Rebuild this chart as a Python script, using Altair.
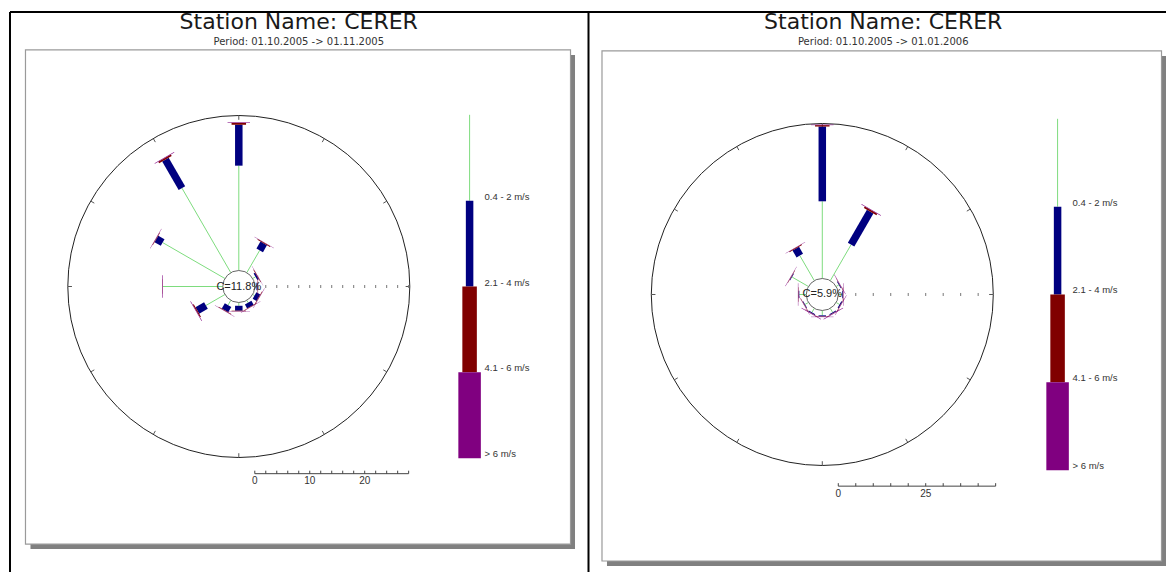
import math
import altair as alt
import pandas as pd

# ---------------- data ----------------
directions = [0, 30, 60, 90, 120, 150, 180, 210, 240, 270, 300, 330]
classes = ["0.4 - 2 m/s", "2.1 - 4 m/s", "4.1 - 6 m/s", "> 6 m/s"]
class_colors = ["#7edc7e", "#000080", "#800000", "#800080"]

titles = ["Station Name: CERER", "Station Name: CERER"]
periods = ["Period: 01.10.2005 -> 01.11.2005", "Period: 01.10.2005 -> 01.01.2006"]
calms = ["C=11.8%", "C=5.9%"]

# frequency (%) per direction and speed class, panel 1 (Oct 2005)
p1_c1 = [19.1, 4.7, 0.6, 0.3, 0.4, 0.5, 0.6, 1.0, 4.0, 10.9, 13.1, 17.8]
p1_c2 = [7.45, 1.45, 0.3, 0.2, 0.8, 0.8, 0.9, 1.1, 1.8, 0.0, 1.3, 6.0]
p1_c3 = [0.35, 0.15, 0.1, 0.05, 0.1, 0.1, 0.1, 0.1, 0.2, 0.05, 0.1, 0.3]
p1_c4 = [0.1, 0.05, 0.05, 0.05, 0.05, 0.05, 0.05, 0.05, 0.1, 0.1, 0.05, 0.1]

# panel 2 (Oct 2005 - Dec 2005)
p2_c1 = [22.1, 11.9, 0.9, 1.1, 1.1, 1.3, 1.4, 1.3, 1.1, 2.0, 5.4, 8.3]
p2_c2 = [21.4, 10.9, 0.2, 0.2, 0.3, 0.3, 0.3, 0.3, 0.2, 0.2, 0.2, 2.3]
p2_c3 = [0.4, 0.5, 0.1, 0.1, 0.1, 0.1, 0.1, 0.1, 0.1, 0.1, 0.1, 0.2]
p2_c4 = [0.15, 0.15, 0.1, 0.1, 0.1, 0.1, 0.1, 0.1, 0.1, 0.1, 0.1, 0.1]

scale_labels_1 = [0, 10, 20]
scale_labels_2 = [0, 25]

# ---------------- layout (pixel frame) ----------------
W, H = 1159, 565
X0, Y0 = 8, 8
seg_widths = [1, 7.5, 14.5, 22.5]

panels = [
    dict(cx=239, cy=287, R=171, r0=16, ppu=5.5, tick_step=2, tick_max=28,
         axis_max=28, scale_y=474.5, label_dy=7.5, lx=470, ltop=115, lseg=86,
         box=(25.5, 50, 571, 545), tx=299,
         data=[p1_c1, p1_c2, p1_c3, p1_c4], labels=scale_labels_1),
    dict(cx=823, cy=295, R=171, r0=16, ppu=3.5, tick_step=5, tick_max=45,
         axis_max=40, scale_y=487, label_dy=8, lx=1058.5, ltop=119, lseg=88,
         box=(602.5, 51, 1162.5, 562), tx=884,
         data=[p2_c1, p2_c2, p2_c3, p2_c4], labels=scale_labels_2),
]

xs = alt.Scale(domain=[X0, X0 + W], nice=False, zero=False)
ys = alt.Scale(domain=[Y0 + H, Y0], nice=False, zero=False)


def X(f="x"):
    return alt.X(f"{f}:Q", scale=xs, axis=None)


def Y(f="y"):
    return alt.Y(f"{f}:Q", scale=ys, axis=None)


def pol(cx, cy, r, deg):
    a = math.radians(deg)
    return cx + r * math.sin(a), cy - r * math.cos(a)


seg_rows, circ_rows, inner_rows, ctick_rows, atick_rows = [], [], [], [], []
sbar_rows, slab_rows, leg_rows, leglab_rows, text_rows = [], [], [], [], []
box_rows, shadow_rows = [], []

for pi, p in enumerate(panels):
    cx, cy, R, r0, k = p["cx"], p["cy"], p["R"], p["r0"], p["ppu"]
    # petals
    for i, d in enumerate(directions):
        cum = 0.0
        for ci, cls in enumerate(classes):
            v = p["data"][ci][i]
            if v <= 0:
                continue
            x1, y1 = pol(cx, cy, r0 + k * cum, d)
            x2, y2 = pol(cx, cy, r0 + k * (cum + v), d)
            seg_rows.append(dict(x=x1, y=y1, x2=x2, y2=y2, cls=cls, order=ci,
                                 w=seg_widths[ci], c=class_colors[ci]))
            cum += v
    circ_rows.append(dict(x=cx, y=cy))
    inner_rows.append(dict(x=cx, y=cy, t=calms[pi]))
    # ticks on the outer circle
    for d in directions:
        x1, y1 = pol(cx, cy, R, d)
        x2, y2 = pol(cx, cy, R - 4, d)
        ctick_rows.append(dict(x=x1, y=y1, x2=x2, y2=y2))
    # dotted radial axis toward east
    v = p["tick_step"]
    while v <= p["axis_max"] + 1e-9:
        xx = cx + r0 + k * v
        atick_rows.append(dict(x=xx, y=cy - 1.5, y2=cy + 1.5))
        v += p["tick_step"]
    # scale bar
    sx0 = cx + r0
    sbar_rows.append(dict(x=sx0, x2=sx0 + k * p["tick_max"], y=p["scale_y"], y2=p["scale_y"]))
    v = 0
    while v <= p["tick_max"] + 1e-9:
        xx = sx0 + k * v
        sbar_rows.append(dict(x=xx, x2=xx, y=p["scale_y"] - 3, y2=p["scale_y"]))
        v += p["tick_step"]
    for lab in p["labels"]:
        slab_rows.append(dict(x=sx0 + k * lab, y=p["scale_y"] + p["label_dy"], t=str(lab)))
    # legend
    for ci, cls in enumerate(classes):
        ya = p["ltop"] + ci * p["lseg"]
        yb = ya + p["lseg"]
        leg_rows.append(dict(x=p["lx"], y=ya, y2=yb, cls=cls, w=seg_widths[ci], c=class_colors[ci]))
        leglab_rows.append(dict(x=p["lx"] + 15, y=yb - 4, t=cls))
    # frame
    bx0, by0, bx1, by1 = p["box"]
    shadow_rows.append(dict(x=bx0 + 5, x2=bx1 + 4.5, y=by0 + 5, y2=by1 + 5))
    box_rows.append(dict(x=bx0, x2=bx1, y=by0, y2=by1))
    text_rows.append(dict(x=p["tx"], y=22, t=titles[pi], kind="title"))
    text_rows.append(dict(x=p["tx"], y=42.5, t=periods[pi], kind="period"))

segs = pd.DataFrame(seg_rows).sort_values("order")

shadow = alt.Chart(pd.DataFrame(shadow_rows)).mark_rect(color="#808080").encode(
    x=X(), x2="x2:Q", y=Y(), y2="y2:Q")
box = alt.Chart(pd.DataFrame(box_rows)).mark_rect(fill="white", stroke="#9a9a9a", strokeWidth=1.2).encode(
    x=X(), x2="x2:Q", y=Y(), y2="y2:Q")

border_df = pd.DataFrame([
    dict(x=10, x2=X0 + W, y=12, y2=12),
    dict(x=10, x2=10, y=12, y2=Y0 + H),
    dict(x=589, x2=589, y=12, y2=Y0 + H),
])
borders = alt.Chart(border_df).mark_rule(color="black", strokeWidth=2).encode(
    x=X(), x2="x2:Q", y=Y(), y2="y2:Q")

outer = alt.Chart(pd.DataFrame(circ_rows)).mark_point(
    shape="circle", filled=False, size=(2 * 171) ** 2, stroke="#222222", strokeWidth=1, opacity=1
).encode(x=X(), y=Y())
cticks = alt.Chart(pd.DataFrame(ctick_rows)).mark_rule(color="#555555", strokeWidth=1).encode(
    x=X(), x2="x2:Q", y=Y(), y2="y2:Q")

petals = alt.Chart(segs).mark_rule(strokeCap="butt").encode(
    x=X(), x2="x2:Q", y=Y(), y2="y2:Q",
    color=alt.Color("c:N", scale=None),
    strokeWidth=alt.StrokeWidth("w:Q", scale=None),
    order=alt.Order("order:Q"))

inner = alt.Chart(pd.DataFrame(inner_rows)).mark_point(
    shape="circle", filled=True, size=(2 * 16) ** 2, fill="white", stroke="#666666",
    strokeWidth=1, opacity=1
).encode(x=X(), y=Y())
calm_text = alt.Chart(pd.DataFrame(inner_rows)).mark_text(
    font="Liberation Sans", fontSize=11, color="#222222", align="center", baseline="middle"
).encode(x=X(), y=Y(), text="t:N")

aticks = alt.Chart(pd.DataFrame(atick_rows)).mark_rule(color="#777777", strokeWidth=1).encode(
    x=X(), y=Y(), y2="y2:Q")

sbar = alt.Chart(pd.DataFrame(sbar_rows)).mark_rule(color="#444444", strokeWidth=1).encode(
    x=X(), x2="x2:Q", y=Y(), y2="y2:Q")
slab = alt.Chart(pd.DataFrame(slab_rows)).mark_text(
    font="Liberation Sans", fontSize=10, color="#333333", align="center", baseline="middle"
).encode(x=X(), y=Y(), text="t:N")

legend = alt.Chart(pd.DataFrame(leg_rows)).mark_rule(strokeCap="butt").encode(
    x=X(), y=Y(), y2="y2:Q",
    color=alt.Color("c:N", scale=None),
    strokeWidth=alt.StrokeWidth("w:Q", scale=None))
leglab = alt.Chart(pd.DataFrame(leglab_rows)).mark_text(
    font="Liberation Sans", fontSize=9.5, color="#333333", align="left", baseline="middle"
).encode(x=X(), y=Y(), text="t:N")

tdf = pd.DataFrame(text_rows)
title_t = alt.Chart(tdf[tdf.kind == "title"]).mark_text(
    font="DejaVu Sans", fontSize=22, color="#1a1a1a", align="center", baseline="middle"
).encode(x=X(), y=Y(), text="t:N")
period_t = alt.Chart(tdf[tdf.kind == "period"]).mark_text(
    font="DejaVu Sans", fontSize=10, color="#333333", align="center", baseline="middle"
).encode(x=X(), y=Y(), text="t:N")

chart = alt.layer(
    shadow, box, borders, outer, cticks, petals, inner, calm_text, aticks,
    sbar, slab, legend, leglab, title_t, period_t
).properties(
    width=W, height=H, padding=0,
    autosize=alt.AutoSizeParams(type="fit", contains="padding"),
).configure_view(stroke=None)

chart.save("out.html", embed_options={"renderer": "svg", "actions": False})
